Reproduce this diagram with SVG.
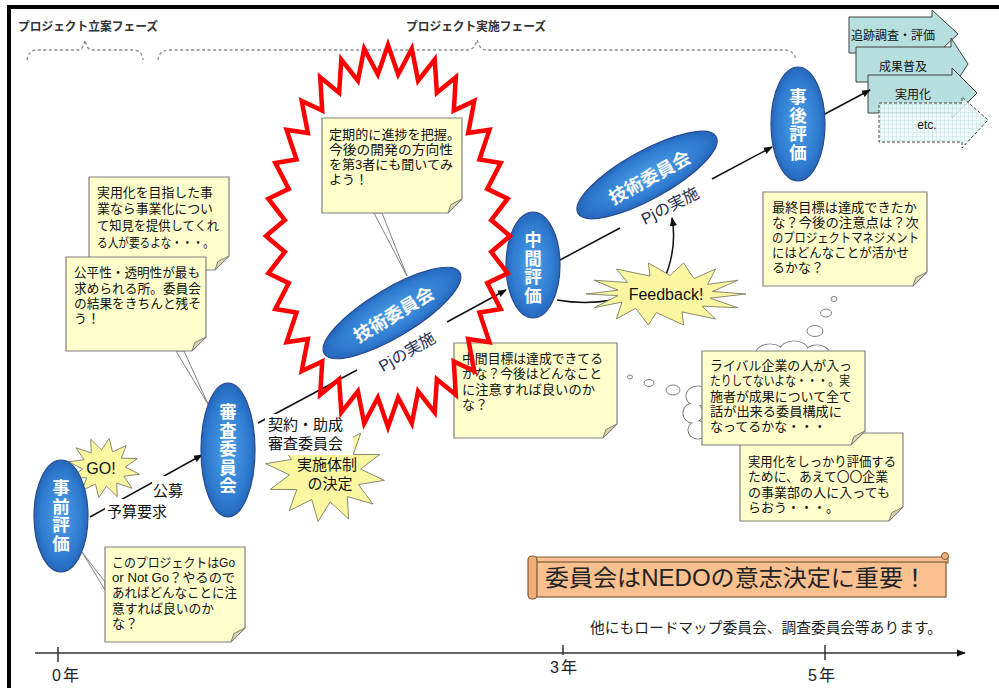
<svg xmlns="http://www.w3.org/2000/svg" width="999" height="688" viewBox="0 0 999 688">
<style>
text{font-family:"Liberation Sans","Noto Sans CJK JP",sans-serif;}
.note{fill:#ffffcc;stroke:#808080;stroke-width:1.2;}
.fold{fill:#d9d5a8;stroke:#808080;stroke-width:1;}
.nt{font-size:13px;fill:#111;}
.ell{fill:url(#blue);stroke:#2a4a8f;stroke-width:1.2;}
.et{font-size:18px;fill:#fff;font-weight:bold;text-anchor:middle;dominant-baseline:central;}
.vt{font-family:"Noto Sans CJK JP",sans-serif;font-size:17.5px;fill:#fff;font-weight:bold;writing-mode:vertical-rl;text-orientation:upright;letter-spacing:1px;}
.ystar{fill:#fbf7a0;stroke:#8a8a70;stroke-width:1;}
.conn{stroke:#111;stroke-width:1.5;fill:none;}
.tail{fill:#fff;stroke:#808080;stroke-width:1;}
.bub{fill:#fff;stroke:#808080;stroke-width:1;}
.brace{fill:none;stroke:#8a8a8a;stroke-width:1.3;stroke-dasharray:3 2.5;}
.blk{fill:#b7dfe0;stroke:#404040;stroke-width:1;}
.lbl{font-size:15px;fill:#111;}
.yr{font-size:16px;fill:#222;letter-spacing:2px;}
</style>
<defs>
<radialGradient id="blue" cx="50%" cy="50%" r="55%">
<stop offset="0" stop-color="#4d9fe6"/>
<stop offset="0.7" stop-color="#2f7bd0"/>
<stop offset="1" stop-color="#1f5fb2"/>
</radialGradient>
<pattern id="grid" width="4" height="4" patternUnits="userSpaceOnUse">
<rect width="4" height="4" fill="#eef8f8"/>
<path d="M0 0H4M0 0V4" stroke="#a9d6d8" stroke-width="0.7"/>
</pattern>
<marker id="arr" viewBox="0 0 10 10" refX="9" refY="5" markerWidth="9" markerHeight="9" markerUnits="userSpaceOnUse" orient="auto">
<path d="M0 1L10 5L0 9Z" fill="#111"/>
</marker>
<polygon id="star32" vector-effect="non-scaling-stroke" points="1,0 .8459,.0833 .9808,.1951 .8134,.2467 .9239,.3827 .7496,.4007 .8315,.5556 .6571,.5392 .7071,.7071 .5392,.6571 .5556,.8315 .4007,.7496 .3827,.9239 .2467,.8134 .1951,.9808 .0833,.8459 0,1 -.0833,.8459 -.1951,.9808 -.2467,.8134 -.3827,.9239 -.4007,.7496 -.5556,.8315 -.5392,.6571 -.7071,.7071 -.6571,.5392 -.8315,.5556 -.7496,.4007 -.9239,.3827 -.8134,.2467 -.9808,.1951 -.8459,.0833 -1,0 -.8459,-.0833 -.9808,-.1951 -.8134,-.2467 -.9239,-.3827 -.7496,-.4007 -.8315,-.5556 -.6571,-.5392 -.7071,-.7071 -.5392,-.6571 -.5556,-.8315 -.4007,-.7496 -.3827,-.9239 -.2467,-.8134 -.1951,-.9808 -.0833,-.8459 0,-1 .0833,-.8459 .1951,-.9808 .2467,-.8134 .3827,-.9239 .4007,-.7496 .5556,-.8315 .5392,-.6571 .7071,-.7071 .6571,-.5392 .8315,-.5556 .7496,-.4007 .9239,-.3827 .8134,-.2467 .9808,-.1951 .8459,-.0833"/>
<polygon id="star12" vector-effect="non-scaling-stroke" points="1,0 .5796,.1553 .866,.5 .4243,.4243 .5,.866 .1553,.5796 0,1 -.1553,.5796 -.5,.866 -.4243,.4243 -.866,.5 -.5796,.1553 -1,0 -.5796,-.1553 -.866,-.5 -.4243,-.4243 -.5,-.866 -.1553,-.5796 0,-1 .1553,-.5796 .5,-.866 .4243,-.4243 .866,-.5 .5796,-.1553"/>
<polygon id="star14" vector-effect="non-scaling-stroke" points="1,0 .55,.13 .9,.43 .45,.38 .62,.78 .2,.56 .22,.97 -.12,.58 -.22,.97 -.38,.45 -.62,.78 -.55,.25 -.9,.43 -.6,.05 -1,0 -.6,-.12 -.9,-.43 -.48,-.36 -.62,-.78 -.2,-.56 -.22,-.97 .05,-.58 .22,-.97 .35,-.48 .62,-.78 .52,-.3 .9,-.43 .58,-.08"/>
</defs>

<rect width="999" height="688" fill="#fff"/>
<g id="frame" stroke="#000" stroke-width="4">
<line x1="7" y1="7" x2="999" y2="7"/>
<line x1="9" y1="5" x2="9" y2="688"/>
</g>

<g id="phases">
<text x="18" y="31" font-size="12" font-weight="bold" fill="#333" textLength="140" lengthAdjust="spacingAndGlyphs">プロジェクト立案フェーズ</text>
<text x="406" y="31" font-size="12" font-weight="bold" fill="#333" textLength="140" lengthAdjust="spacingAndGlyphs">プロジェクト実施フェーズ</text>
<path class="brace" d="M27 60Q28 50 38 50L78 50Q83 50 85 40Q87 50 92 50L133 50Q142 50 143 60"/>
<path class="brace" d="M158 60Q159 50 170 50L468 50Q474 50 477 40Q480 50 486 50L785 50Q794 50 796 60"/>
</g>

<g id="outcomes">
<polygon class="blk" points="849,17 932,17 932,10 958,34 932,58 932,53 849,53"/>
<polygon class="blk" points="856,47 951,47 951,38 968,64 951,90 951,82 856,82"/>
<polygon class="blk" points="868,75 952,75 952,68 977,93 952,118 952,113 868,113"/>
<polygon points="879,103 962,103 962,97 988,120 962,148 962,142 879,142" fill="url(#grid)" fill-opacity="0.85" stroke="#404040" stroke-width="1" stroke-dasharray="3 2"/>
<text x="893" y="40" font-size="12" text-anchor="middle" fill="#111">追跡調査・評価</text>
<text x="903" y="71" font-size="12" text-anchor="middle" fill="#111">成果普及</text>
<text x="913" y="99" font-size="12" text-anchor="middle" fill="#111">実用化</text>
<text x="927" y="129" font-size="12" text-anchor="middle" fill="#111">etc.</text>
</g>

<g id="connectors">
<path class="conn" d="M90 517L202 455" marker-end="url(#arr)"/>
<path class="conn" d="M258 423L357 370"/>
<path class="conn" d="M447 322L506 290" marker-end="url(#arr)"/>
<path class="conn" d="M560 260L620 228"/>
<path class="conn" d="M712 179L772 147" marker-end="url(#arr)"/>
<path class="conn" d="M823 115L870 90" marker-end="url(#arr)"/>
<path class="conn" d="M557 300Q585 305 612 300"/>
<path class="conn" d="M663 282C672 262 676 240 672 218" marker-end="url(#arr)"/>
<line x1="35" y1="653" x2="965" y2="653" stroke="#333" stroke-width="1.5" marker-end="url(#arr)"/>
<line x1="58" y1="647" x2="58" y2="662" stroke="#333" stroke-width="1.5"/>
<line x1="563" y1="645" x2="563" y2="655" stroke="#333" stroke-width="1.5"/>
<line x1="825" y1="645" x2="825" y2="660" stroke="#333" stroke-width="1.5"/>
</g>

<g id="edge-labels">
<rect x="105" y="499" width="66" height="21" fill="#fff"/>
<text class="lbl" x="107" y="517">予算要求</text>
<rect x="152" y="476" width="33" height="23" fill="#fff"/>
<text class="lbl" x="153" y="496">公募</text>
</g>

<g id="axis-labels">
<text class="yr" x="52" y="681">0年</text>
<text class="yr" x="550" y="673">3年</text>
<text class="yr" x="808" y="681">5年</text>
</g>

<g id="star-jisshi">
<use href="#star12" class="ystar" transform="translate(325,472) rotate(8) scale(60,50)"/>
<rect x="265" y="414" width="88" height="41" fill="#fff"/>
<text class="lbl" x="268" y="430">契約・助成</text>
<text class="lbl" x="268" y="449">審査委員会</text>
<text x="327" y="470" font-size="15" text-anchor="middle" fill="#111">実施体制</text>
<text x="330" y="489" font-size="15" text-anchor="middle" fill="#111">の決定</text>
</g>

<g id="star-go">
<use href="#star12" class="ystar" transform="translate(104,468) rotate(10) scale(36,30)"/>
<text x="101" y="474" font-size="16" text-anchor="middle" fill="#111">GO!</text>
</g>

<g id="star-feedback">
<use href="#star14" class="ystar" transform="translate(666,294) scale(80,32)"/>
<text x="666" y="300" font-size="16" text-anchor="middle" fill="#111">Feedback!</text>
</g>

<g id="note1">
<path class="note" d="M89 177H229V256L215 270H89Z"/>
<polygon class="fold" points="229,256 215,270 217.8,261.6"/>
<text class="nt" x="97" y="197" textLength="116" lengthAdjust="spacingAndGlyphs">実用化を目指した事</text>
<text class="nt" x="97" y="213" textLength="116" lengthAdjust="spacingAndGlyphs">業なら事業化につい</text>
<text class="nt" x="97" y="230" textLength="122" lengthAdjust="spacingAndGlyphs">て知見を提供してくれ</text>
<text class="nt" x="97" y="247" textLength="117" lengthAdjust="spacingAndGlyphs">る人が要るよな・・・。</text>
</g>

<g id="note2">
<polygon class="tail" points="176,351 184,351 209,406"/>
<path class="note" d="M66 257H206V337L192 351H66Z"/>
<polygon class="fold" points="206,337 192,351 194.8,342.6"/>
<text class="nt" x="74" y="277" textLength="126" lengthAdjust="spacingAndGlyphs">公平性・透明性が最も</text>
<text class="nt" x="74" y="293" textLength="127" lengthAdjust="spacingAndGlyphs">求められる所。委員会</text>
<text class="nt" x="74" y="308" textLength="127" lengthAdjust="spacingAndGlyphs">の結果をきちんと残そ</text>
<text class="nt" x="74" y="323">う！</text>
</g>

<g id="note3">
<polygon class="tail" points="374,213 382,213 407,276"/>
<path class="note" d="M322 118H462V199L448 213H322Z"/>
<polygon class="fold" points="462,199 448,213 450.8,204.6"/>
<text class="nt" x="329" y="139" textLength="131" lengthAdjust="spacingAndGlyphs">定期的に進捗を把握。</text>
<text class="nt" x="329" y="154" textLength="124" lengthAdjust="spacingAndGlyphs">今後の開発の方向性</text>
<text class="nt" x="329" y="169" textLength="124" lengthAdjust="spacingAndGlyphs">を第3者にも聞いてみ</text>
<text class="nt" x="329" y="184">よう！</text>
</g>

<g id="note4">
<path class="note" d="M454 343H617V424L603 438H454Z"/>
<polygon class="fold" points="617,424 603,438 605.8,429.6"/>
<text class="nt" x="462" y="363" textLength="141" lengthAdjust="spacingAndGlyphs">中間目標は達成できてる</text>
<text class="nt" x="462" y="378" textLength="140" lengthAdjust="spacingAndGlyphs">かな？今後はどんなこと</text>
<text class="nt" x="462" y="394" textLength="133" lengthAdjust="spacingAndGlyphs">に注意すれば良いのか</text>
<text class="nt" x="462" y="409">な？</text>
</g>

<g id="note5">
<path class="note" d="M763 192H927V272L913 286H763Z"/>
<polygon class="fold" points="927,272 913,286 915.8,277.6"/>
<text class="nt" x="772" y="212" textLength="145" lengthAdjust="spacingAndGlyphs">最終目標は達成できたか</text>
<text class="nt" x="772" y="227" textLength="147" lengthAdjust="spacingAndGlyphs">な？今後の注意点は？次</text>
<text class="nt" x="772" y="242" textLength="147" lengthAdjust="spacingAndGlyphs">のプロジェクトマネジメント</text>
<text class="nt" x="772" y="257" textLength="137" lengthAdjust="spacingAndGlyphs">にはどんなことが活かせ</text>
<text class="nt" x="772" y="272">るかな？</text>
</g>

<g id="thought-bubbles">
<ellipse class="bub" cx="834" cy="299" rx="3" ry="2.5"/>
<ellipse class="bub" cx="826" cy="313" rx="5.5" ry="4"/>
<ellipse class="bub" cx="815" cy="331" rx="8" ry="5.5"/>
<ellipse class="bub" cx="630" cy="377" rx="2.5" ry="2"/>
<ellipse class="bub" cx="649" cy="383" rx="5" ry="3.5"/>
<ellipse class="bub" cx="673" cy="390" rx="7" ry="5"/>
</g>

<g id="note7">
<path class="note" d="M740 433H903V507L889 521H740Z"/>
<polygon class="fold" points="903,507 889,521 891.8,512.6"/>
<text class="nt" x="748" y="466" textLength="148" lengthAdjust="spacingAndGlyphs">実用化をしっかり評価する</text>
<text class="nt" x="748" y="481" textLength="140" lengthAdjust="spacingAndGlyphs">ために、あえて〇〇企業</text>
<text class="nt" x="748" y="497" textLength="142" lengthAdjust="spacingAndGlyphs">の事業部の人に入っても</text>
<text class="nt" x="748" y="512">らおう・・・。</text>
</g>

<g id="note6">
<g stroke="#808080" stroke-width="1.2" fill="#fff">
<ellipse cx="770" cy="353" rx="14" ry="9"/>
<ellipse cx="794" cy="350" rx="14" ry="9"/>
<ellipse cx="817" cy="353" rx="12" ry="8"/>
<ellipse cx="698" cy="396" rx="12" ry="10"/>
<ellipse cx="693" cy="413" rx="10" ry="10"/>
<ellipse cx="698" cy="430" rx="10" ry="9"/>
</g>
<g fill="#fff">
<ellipse cx="770" cy="353" rx="13.4" ry="8.4"/>
<ellipse cx="794" cy="350" rx="13.4" ry="8.4"/>
<ellipse cx="817" cy="353" rx="11.4" ry="7.4"/>
<ellipse cx="698" cy="396" rx="11.4" ry="9.4"/>
<ellipse cx="693" cy="413" rx="9.4" ry="9.4"/>
<ellipse cx="698" cy="430" rx="9.4" ry="8.4"/>
</g>
<path class="note" d="M702 351H865V431L851 445H702Z"/>
<polygon class="fold" points="865,431 851,445 853.8,436.6"/>
<text class="nt" x="710" y="370" textLength="142" lengthAdjust="spacingAndGlyphs">ライバル企業の人が入っ</text>
<text class="nt" x="710" y="385" textLength="140" lengthAdjust="spacingAndGlyphs">たりしてないよな・・・。実</text>
<text class="nt" x="710" y="401" textLength="142" lengthAdjust="spacingAndGlyphs">施者が成果について全て</text>
<text class="nt" x="710" y="416" textLength="132" lengthAdjust="spacingAndGlyphs">話が出来る委員構成に</text>
<text class="nt" x="710" y="431">なってるかな・・・</text>
</g>

<g id="note8">
<polygon class="tail" points="105,582 105,590 82,552"/>
<path class="note" d="M105 547H245V628L231 642H105Z"/>
<polygon class="fold" points="245,628 231,642 233.8,633.6"/>
<text class="nt" x="112" y="567" textLength="123" lengthAdjust="spacingAndGlyphs">このプロジェクトはGo</text>
<text class="nt" x="112" y="582" textLength="123" lengthAdjust="spacingAndGlyphs">or Not Go？やるので</text>
<text class="nt" x="112" y="597" textLength="125" lengthAdjust="spacingAndGlyphs">あればどんなことに注</text>
<text class="nt" x="112" y="613" textLength="102" lengthAdjust="spacingAndGlyphs">意すれば良いのか</text>
<text class="nt" x="112" y="628">な？</text>
</g>

<g id="node-jizen">
<ellipse class="ell" cx="61" cy="516" rx="27" ry="56"/>
<text class="vt" x="61" y="479">事前評価</text>
</g>
<g id="node-shinsa">
<ellipse class="ell" cx="228" cy="450" rx="27" ry="67"/>
<text class="vt" x="228" y="403">審査委員会</text>
</g>
<g id="node-chukan">
<ellipse class="ell" cx="533" cy="265" rx="27" ry="53"/>
<text class="vt" x="533" y="231">中間評価</text>
</g>
<g id="node-jigo">
<ellipse class="ell" cx="798" cy="124" rx="27" ry="57"/>
<text class="vt" x="798" y="88">事後評価</text>
</g>
<g id="node-gijutsu1">
<ellipse class="ell" cx="0" cy="0" rx="79" ry="24" transform="translate(392,313) rotate(-31)"/>
<text class="et" transform="translate(394,315) rotate(-31)" font-size="19">技術委員会</text>
<text transform="translate(407,352) rotate(-30)" font-size="16" fill="#1c2c50" text-anchor="middle" dominant-baseline="central">Pjの実施</text>
</g>
<g id="node-gijutsu2">
<ellipse class="ell" cx="0" cy="0" rx="79" ry="24" transform="translate(647,175) rotate(-29)"/>
<text class="et" transform="translate(650,178) rotate(-29)" font-size="19">技術委員会</text>
<text transform="translate(670,206) rotate(-27)" font-size="16" fill="#1c2c50" text-anchor="middle" dominant-baseline="central">Pjの実施</text>
</g>

<g id="red-burst">
<use href="#star32" fill="none" stroke="#ff0000" stroke-width="4.5" stroke-linejoin="miter" transform="translate(388,236) scale(122,191)"/>
</g>

<g id="banner">
<rect x="530" y="557" width="418" height="6" fill="#fac08f" stroke="#7a5a3a" stroke-width="1"/>
<rect x="536" y="562" width="410" height="35" fill="#fac08f" stroke="#7a5a3a" stroke-width="1.2"/>
<rect x="528" y="556" width="9" height="43" rx="4" fill="#f2ad76" stroke="#7a5a3a" stroke-width="1.2"/>
<circle cx="945" cy="556" r="3.5" fill="#f2ad76" stroke="#7a5a3a" stroke-width="1"/>
<text x="545" y="586" font-size="23" fill="#222" textLength="382" lengthAdjust="spacingAndGlyphs">委員会はNEDOの意志決定に重要！</text>
</g>

<g id="footnote">
<text x="590" y="633" font-size="14.5" fill="#222" textLength="352" lengthAdjust="spacingAndGlyphs">他にもロードマップ委員会、調査委員会等あります。</text>
</g>
</svg>
